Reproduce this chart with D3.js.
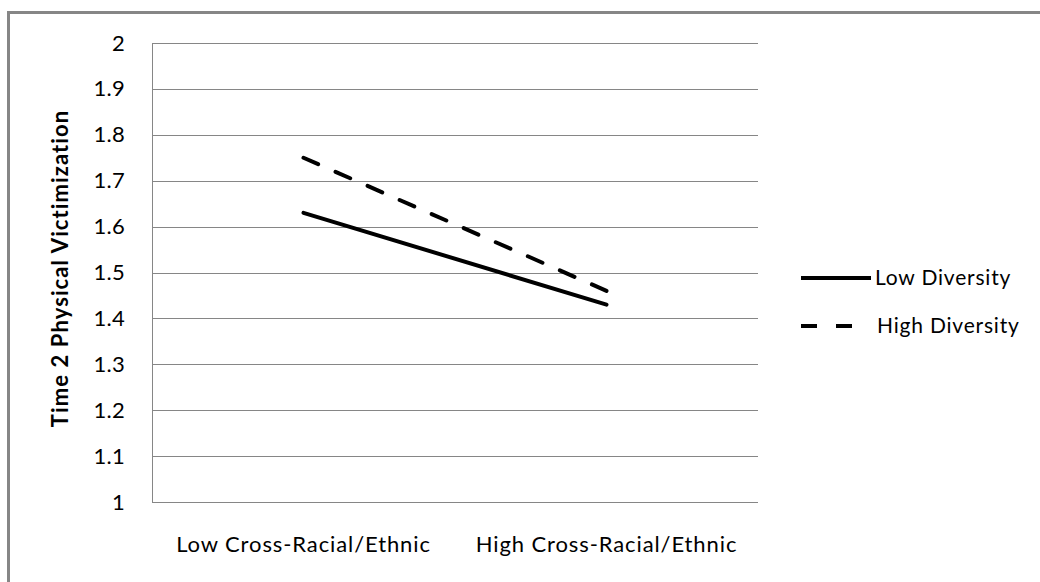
<!DOCTYPE html>
<html><head><meta charset="utf-8">
<script src="https://cdn.jsdelivr.net/npm/d3@7"></script>
<style>body{margin:0;background:#fff}svg{display:block}text{font-family:Lato,"Open Sans",sans-serif;fill:#000}</style>
</head><body><svg id="c" width="1040" height="582"></svg>
<script>
const categories = ["Low Cross-Racial/Ethnic", "High Cross-Racial/Ethnic"];
const seriesNames = ["Low Diversity", "High Diversity"];
const lowDiversity = [1.63, 1.43];
const highDiversity = [1.75, 1.46];
const yTicks = [1, 1.1, 1.2, 1.3, 1.4, 1.5, 1.6, 1.7, 1.8, 1.9, 2];
const yLabel = "Time 2 Physical Victimization";

const svg = d3.select("#c");
const L = 152, R = 758, T = 43, B = 502;
const x = d3.scaleBand().domain(categories).range([L, R]);
const y = d3.scaleLinear().domain([1, 2]).range([B, T]);
const grid = "#868686";

// outer border (top + left visible)
svg.append("path").attr("d", `M8.5,1040 V12.5 H1040`).attr("fill","none").attr("stroke",grid).attr("stroke-width",3);

// gridlines
svg.append("g").selectAll("line").data(yTicks).join("line")
  .attr("x1", L).attr("x2", R).attr("y1", d => Math.round(y(d)) + 0.5).attr("y2", d => Math.round(y(d)) + 0.5)
  .attr("stroke", grid).attr("stroke-width", 1);
svg.append("line").attr("x1", L + 0.5).attr("x2", L + 0.5).attr("y1", T).attr("y2", B + 0.5).attr("stroke", grid);

// y axis labels
const yAxis = d3.axisLeft(y).tickValues(yTicks).tickSize(0).tickPadding(27).tickFormat(d3.format("~g"));
const ga = svg.append("g").attr("transform", `translate(${L},0)`).call(yAxis);
ga.select(".domain").remove();
ga.selectAll("text").attr("font-family", "Lato").attr("font-size", 22).attr("letter-spacing", 0.3).attr("fill", "#000");

// x axis labels
const xAxis = d3.axisBottom(x).tickSize(0).tickPadding(34);
const gx = svg.append("g").attr("transform", `translate(0,${B})`).call(xAxis);
gx.select(".domain").remove();
gx.selectAll("text").attr("font-family", "Lato").attr("font-size", 22).attr("letter-spacing", 0.9).attr("fill", "#000");

// y title
svg.append("text").attr("transform", `translate(68,${(T+B)/2 - 4}) rotate(-90)`)
  .attr("text-anchor", "middle").attr("font-size", 22).attr("letter-spacing", 1.1)
  .attr("font-weight", "bold").text(yLabel);

// lines
const line = d3.line().x((d, i) => x(categories[i]) + x.bandwidth() / 2).y(d => y(d));
const series = [
  {name: seriesNames[0], values: lowDiversity, dash: null},
  {name: seriesNames[1], values: highDiversity, dash: "16,19"}
];
svg.append("g").selectAll("path").data(series).join("path")
  .attr("d", d => line(d.values)).attr("fill", "none").attr("stroke", "#000")
  .attr("stroke-width", 4).attr("stroke-linecap", "round")
  .attr("stroke-dasharray", d => d.dash);

// legend
const lg = svg.append("g");
series.forEach((s, i) => {
  const yy = 278 + i * 48;
  lg.append("line").attr("x1", 801).attr("x2", s.dash ? 853 : 871).attr("y1", yy).attr("y2", yy)
    .attr("stroke", "#000").attr("stroke-width", 4).attr("stroke-linecap", "butt")
    .attr("stroke-dasharray", s.dash ? "16,19" : null);
  lg.append("text").attr("x", s.dash ? 877 : 875).attr("y", yy).attr("dy", "0.35em")
    .attr("font-size", 21).attr("letter-spacing", 0.8).text(s.name);
});
</script></body></html>
